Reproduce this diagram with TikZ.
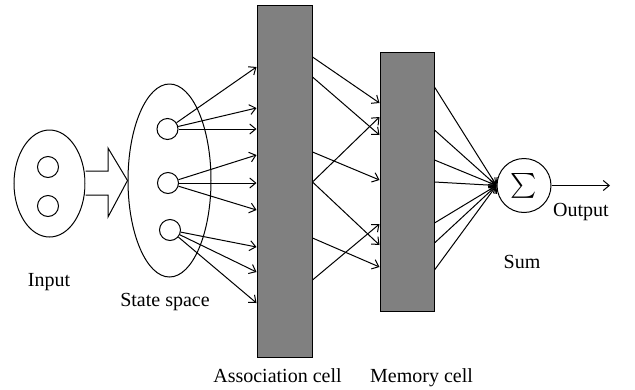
\documentclass[tikz,border=0pt]{standalone}
\usepackage{amsmath}
\usepackage{fontspec}
\setmainfont{Liberation Serif}
\usetikzlibrary{shapes.geometric,arrows.meta}
\begin{document}
\begin{tikzpicture}[x=1pt,y=-1pt,
  line width=1pt,
  unit/.style={circle,draw,inner sep=0pt,minimum size=21pt},
  region/.style={ellipse,draw,inner sep=0pt},
  cell/.style={rectangle,draw,fill=gray,inner sep=0pt},
  link/.style={-{Straight Barb[length=6pt,width=10pt]}},
  caption/.style={anchor=base,inner sep=0pt,font=\fontsize{20}{22}\selectfont}]
\useasboundingbox (0,0) rectangle (635,389);

% input group
\node[region,minimum width=71pt,minimum height=107pt] (inp) at (49.5,183.5) {};
\node[unit] (i1) at (48,167) {};
\node[unit] (i2) at (48,206) {};

% state space
\node[region,minimum width=83pt,minimum height=193pt] (ss) at (169.5,180.5) {};
\node[unit] (s1) at (167.5,129) {};
\node[unit] (s2) at (168,183) {};
\node[unit] (s3) at (170,230) {};

% hollow arrow from input to state space
\draw[fill=white] (inp.east |- 0,171) -- (108,171) -- (108,148) -- (ss.west)
  -- (108,217) -- (108,195) -- (inp.east |- 0,195);

% cells
\node[cell,minimum width=55pt,minimum height=352pt] (assoc) at (284.5,181) {};
\node[cell,minimum width=54pt,minimum height=259pt] (mem) at (407,181.5) {};

% sum unit
\node[circle,draw,inner sep=0pt,minimum size=54pt] (sum) at (524,185.5)
  {\fontsize{26}{26}\selectfont$\sum$};
\coordinate (out) at (610,185.5);

% state space -> association cell
\draw[link] (s1) -- (assoc.west |- 0,67);
\draw[link] (s1) -- (assoc.west |- 0,108);
\draw[link] (s1) -- (assoc.west |- 0,129);
\draw[link] (s2) -- (assoc.west |- 0,155);
\draw[link] (s2) -- (assoc.west |- 0,183);
\draw[link] (s2) -- (assoc.west |- 0,210);
\draw[link] (s3) -- (assoc.west |- 0,247);
\draw[link] (s3) -- (assoc.west |- 0,272);
\draw[link] (s3) -- (assoc.west |- 0,303);

% association cell -> memory cell
\draw[link] (assoc.east |- 0,57) -- (mem.west |- 0,103);
\draw[link] (assoc.east |- 0,77) -- (mem.west |- 0,135);
\draw[link] (assoc.east |- 0,152) -- (mem.west |- 0,180);
\draw[link] (assoc.east |- 0,182) -- (mem.west |- 0,117);
\draw[link] (assoc.east |- 0,182) -- (mem.west |- 0,245);
\draw[link] (assoc.east |- 0,238) -- (mem.west |- 0,267);
\draw[link] (assoc.east |- 0,280) -- (mem.west |- 0,224);

% memory cell -> sum
\foreach \y in {87,130,160,182,223,243,270}
  \draw[link] (mem.east |- 0,\y) -- (sum.west);

% output
\draw[link] (sum) -- (out);

% labels
\node[caption] (lin) at (49,286) {Input};
\node[caption] (lss) at (165,306) {State space};
\node[caption] (las) at (277.5,382) {Association cell};
\node[caption] (lme) at (421.5,382) {Memory cell};
\node[caption] (lout) at (581,216) {Output};
\node[caption] (lsum) at (522,268) {Sum};
\end{tikzpicture}
\end{document}
